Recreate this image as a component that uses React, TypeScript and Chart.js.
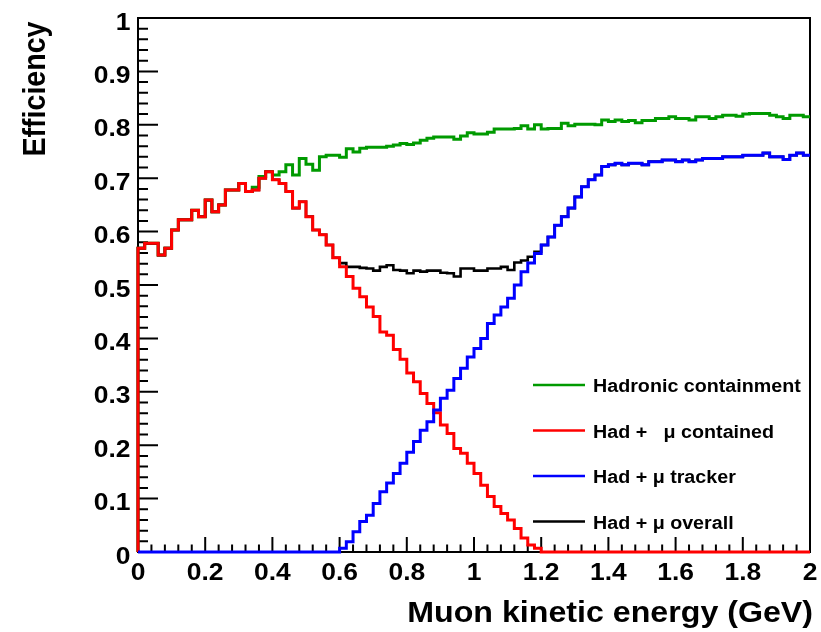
import React, { useEffect, useRef } from 'react';
import { Chart, registerables } from 'chart.js';

Chart.register(...registerables);

// Histogram binning: 100 bins of 0.02 GeV between 0 and 2 GeV
const BIN_WIDTH = 0.02;
const X_MIN = 0;
const X_MAX = 2;
const Y_MIN = 0;
const Y_MAX = 1;

// Efficiency per bin of muon kinetic energy
const hadronicContainment = [
  0.569, 0.578, 0.578, 0.556, 0.569, 0.603, 0.622, 0.622, 0.640, 0.628,
  0.659, 0.637, 0.650, 0.678, 0.678, 0.690, 0.675, 0.683, 0.703, 0.712,
  0.706, 0.712, 0.725, 0.706, 0.737, 0.726, 0.715, 0.740, 0.743, 0.743,
  0.739, 0.755, 0.749, 0.756, 0.758, 0.758, 0.758, 0.760, 0.762, 0.765,
  0.763, 0.766, 0.771, 0.775, 0.777, 0.777, 0.777, 0.773, 0.779, 0.785,
  0.783, 0.783, 0.786, 0.792, 0.792, 0.792, 0.793, 0.798, 0.792, 0.800,
  0.792, 0.793, 0.793, 0.803, 0.798, 0.801, 0.801, 0.801, 0.800, 0.809,
  0.806, 0.809, 0.806, 0.808, 0.804, 0.808, 0.808, 0.812, 0.812, 0.815,
  0.812, 0.812, 0.809, 0.815, 0.815, 0.812, 0.815, 0.818, 0.818, 0.816,
  0.820, 0.821, 0.821, 0.821, 0.818, 0.815, 0.812, 0.818, 0.818, 0.815,
];

const hadMuContained = [
  0.569, 0.578, 0.578, 0.556, 0.569, 0.603, 0.622, 0.622, 0.640, 0.628,
  0.659, 0.637, 0.650, 0.678, 0.678, 0.690, 0.675, 0.678, 0.700, 0.712,
  0.697, 0.690, 0.675, 0.644, 0.656, 0.628, 0.603, 0.594, 0.575, 0.551,
  0.534, 0.516, 0.494, 0.478, 0.459, 0.441, 0.412, 0.406, 0.379, 0.361,
  0.335, 0.319, 0.297, 0.278, 0.261, 0.238, 0.222, 0.194, 0.185, 0.166,
  0.147, 0.125, 0.104, 0.085, 0.072, 0.060, 0.044, 0.026, 0.013, 0.007,
  0, 0, 0, 0, 0, 0, 0, 0, 0, 0,
  0, 0, 0, 0, 0, 0, 0, 0, 0, 0,
  0, 0, 0, 0, 0, 0, 0, 0, 0, 0,
  0, 0, 0, 0, 0, 0, 0, 0, 0, 0,
];

const hadMuTracker = [
  0, 0, 0, 0, 0, 0, 0, 0, 0, 0,
  0, 0, 0, 0, 0, 0, 0, 0, 0, 0,
  0, 0, 0, 0, 0, 0, 0, 0, 0, 0,
  0.007, 0.019, 0.038, 0.057, 0.069, 0.091, 0.113, 0.129, 0.147, 0.166,
  0.187, 0.207, 0.228, 0.244, 0.266, 0.288, 0.303, 0.325, 0.344, 0.365,
  0.381, 0.400, 0.428, 0.444, 0.459, 0.475, 0.500, 0.525, 0.541, 0.559,
  0.575, 0.590, 0.612, 0.628, 0.644, 0.665, 0.684, 0.697, 0.706, 0.722,
  0.725, 0.728, 0.725, 0.728, 0.728, 0.725, 0.731, 0.731, 0.734, 0.734,
  0.731, 0.734, 0.731, 0.734, 0.737, 0.737, 0.737, 0.740, 0.740, 0.740,
  0.743, 0.743, 0.743, 0.747, 0.740, 0.740, 0.735, 0.743, 0.747, 0.743,
];

const hadMuOverall = [
  0.569, 0.578, 0.578, 0.556, 0.569, 0.603, 0.622, 0.622, 0.640, 0.628,
  0.659, 0.637, 0.650, 0.678, 0.678, 0.690, 0.675, 0.678, 0.700, 0.712,
  0.697, 0.690, 0.675, 0.644, 0.656, 0.628, 0.603, 0.594, 0.575, 0.551,
  0.541, 0.534, 0.534, 0.532, 0.531, 0.527, 0.534, 0.537, 0.528, 0.527,
  0.522, 0.527, 0.525, 0.527, 0.527, 0.523, 0.522, 0.516, 0.531, 0.531,
  0.527, 0.527, 0.531, 0.531, 0.534, 0.528, 0.542, 0.546, 0.553, 0.562,
  0.575, 0.590, 0.612, 0.628, 0.644, 0.665, 0.684, 0.697, 0.706, 0.722,
  0.725, 0.728, 0.725, 0.728, 0.728, 0.725, 0.731, 0.731, 0.734, 0.734,
  0.731, 0.734, 0.731, 0.734, 0.737, 0.737, 0.737, 0.740, 0.740, 0.740,
  0.743, 0.743, 0.743, 0.747, 0.740, 0.740, 0.735, 0.743, 0.747, 0.743,
];

const seriesLabels = [
  'Hadronic containment',
  'Had +   \u03bc contained',
  'Had + \u03bc tracker',
  'Had + \u03bc overall',
];
const seriesColors = ['#009a00', '#ff0000', '#0000ff', '#000000'];

const xTickValues = [0, 0.2, 0.4, 0.6, 0.8, 1, 1.2, 1.4, 1.6, 1.8, 2];
const xTickLabels = ['0', '0.2', '0.4', '0.6', '0.8', '1', '1.2', '1.4', '1.6', '1.8', '2'];
const yTickValues = [0, 0.1, 0.2, 0.3, 0.4, 0.5, 0.6, 0.7, 0.8, 0.9, 1];
const yTickLabels = ['0', '0.1', '0.2', '0.3', '0.4', '0.5', '0.6', '0.7', '0.8', '0.9', '1'];

const xTitle = 'Muon kinetic energy (GeV)';
const yTitle = 'Efficiency';

const FONT = '"Liberation Sans", Arial, Helvetica, sans-serif';
const TEXT_STRETCH = 1.125;

// Outline of a histogram: up from the baseline, then across each bin
function outline(values: number[]) {
  const pts: { x: number; y: number }[] = [{ x: X_MIN, y: 0 }];
  values.forEach((v, i) => {
    pts.push({ x: X_MIN + i * BIN_WIDTH, y: v });
    pts.push({ x: X_MIN + (i + 1) * BIN_WIDTH, y: v });
  });
  return pts;
}

function stretchedText(
  ctx: CanvasRenderingContext2D,
  text: string,
  x: number,
  y: number,
  align: CanvasTextAlign,
  font: string,
  rotate = false
) {
  ctx.save();
  ctx.translate(x, y);
  ctx.scale(TEXT_STRETCH, 1);
  if (rotate) ctx.rotate(-Math.PI / 2);
  ctx.font = font;
  ctx.textAlign = align;
  ctx.textBaseline = 'alphabetic';
  ctx.fillStyle = '#000';
  ctx.fillText(text, 0, 0);
  ctx.restore();
}

const frameAndTicks = {
  id: 'frameAndTicks',
  beforeDatasetsDraw(chart: any) {
    const { ctx, chartArea: a } = chart;
    const xs = chart.scales.x;
    const ys = chart.scales.y;
    ctx.save();
    ctx.strokeStyle = '#000';
    ctx.lineWidth = 2;
    ctx.strokeRect(a.left, a.top, a.right - a.left, a.bottom - a.top);
    ctx.beginPath();
    // y axis: major every 0.1, four minors between
    for (let k = 0; k <= 50; k++) {
      const py = ys.getPixelForValue(Y_MIN + (k * (Y_MAX - Y_MIN)) / 50);
      const len = k % 5 === 0 ? 20 : 10;
      ctx.moveTo(a.left, py);
      ctx.lineTo(a.left + len, py);
    }
    // x axis: major every 0.2, four minors between
    for (let k = 0; k <= 50; k++) {
      const px = xs.getPixelForValue(X_MIN + (k * (X_MAX - X_MIN)) / 50);
      const len = k % 5 === 0 ? 15 : 7.5;
      ctx.moveTo(px, a.bottom);
      ctx.lineTo(px, a.bottom - len);
    }
    ctx.stroke();
    ctx.restore();
  },
  afterDatasetsDraw(chart: any) {
    const { ctx, chartArea: a } = chart;
    const xs = chart.scales.x;
    const ys = chart.scales.y;
    const tickFont = `bold 23.5px ${FONT}`;
    const titleFont = `bold 28.6px ${FONT}`;

    yTickValues.forEach((v, i) => {
      stretchedText(ctx, yTickLabels[i], a.left - 7.5, ys.getPixelForValue(v) + 11.5, 'right', tickFont);
    });
    xTickValues.forEach((v, i) => {
      stretchedText(ctx, xTickLabels[i], xs.getPixelForValue(v), a.bottom + 28, 'center', tickFont);
    });

    stretchedText(ctx, xTitle, a.right + 3, a.bottom + 70, 'right', titleFont);
    stretchedText(ctx, yTitle, 44.5, a.top + 3.5, 'right', titleFont, true);

    // legend box in the lower right of the frame
    const rows = [385, 430.5, 476, 521.5];
    ctx.save();
    chart.data.datasets.forEach((ds: any, i: number) => {
      const y = rows[i];
      ctx.strokeStyle = ds.borderColor;
      ctx.lineWidth = 2.5;
      ctx.beginPath();
      ctx.moveTo(533, y);
      ctx.lineTo(585, y);
      ctx.stroke();
      stretchedText(ctx, ds.label, 593, y + 7, 'left', `bold 17.5px ${FONT}`);
    });
    ctx.restore();
  },
};

export default function App() {
  const canvasRef = useRef<HTMLCanvasElement | null>(null);

  useEffect(() => {
    const canvas = canvasRef.current;
    if (!canvas) return;
    const series = [hadronicContainment, hadMuContained, hadMuTracker, hadMuOverall];
    const drawOrder = [3, 1, 0, 2];
    const chart = new Chart(canvas, {
      type: 'line',
      data: {
        datasets: series.map((values, i) => ({
          label: seriesLabels[i],
          data: outline(values),
          borderColor: seriesColors[i],
          backgroundColor: seriesColors[i],
          borderWidth: i === 3 ? 2.6 : 3,
          pointRadius: 0,
          pointHoverRadius: 0,
          tension: 0,
          fill: false,
          clip: false as any,
          order: drawOrder[i],
          borderJoinStyle: 'miter' as const,
          borderCapStyle: 'butt' as const,
        })),
      },
      options: {
        responsive: false,
        animation: false,
        devicePixelRatio: 1,
        parsing: false,
        normalized: true,
        events: [],
        layout: { padding: { left: 138, right: 11, top: 18, bottom: 80 } },
        plugins: {
          legend: { display: false },
          tooltip: { enabled: false },
        },
        scales: {
          x: { type: 'linear', min: X_MIN, max: X_MAX, display: false },
          y: { type: 'linear', min: Y_MIN, max: Y_MAX, display: false },
        },
      },
      plugins: [frameAndTicks],
    });
    return () => chart.destroy();
  }, []);

  return (
    <div style={{ position: 'fixed', left: 0, top: 0, width: 821, height: 632, background: '#fff' }}>
      <canvas ref={canvasRef} width={821} height={632} style={{ display: 'block' }} />
    </div>
  );
}
